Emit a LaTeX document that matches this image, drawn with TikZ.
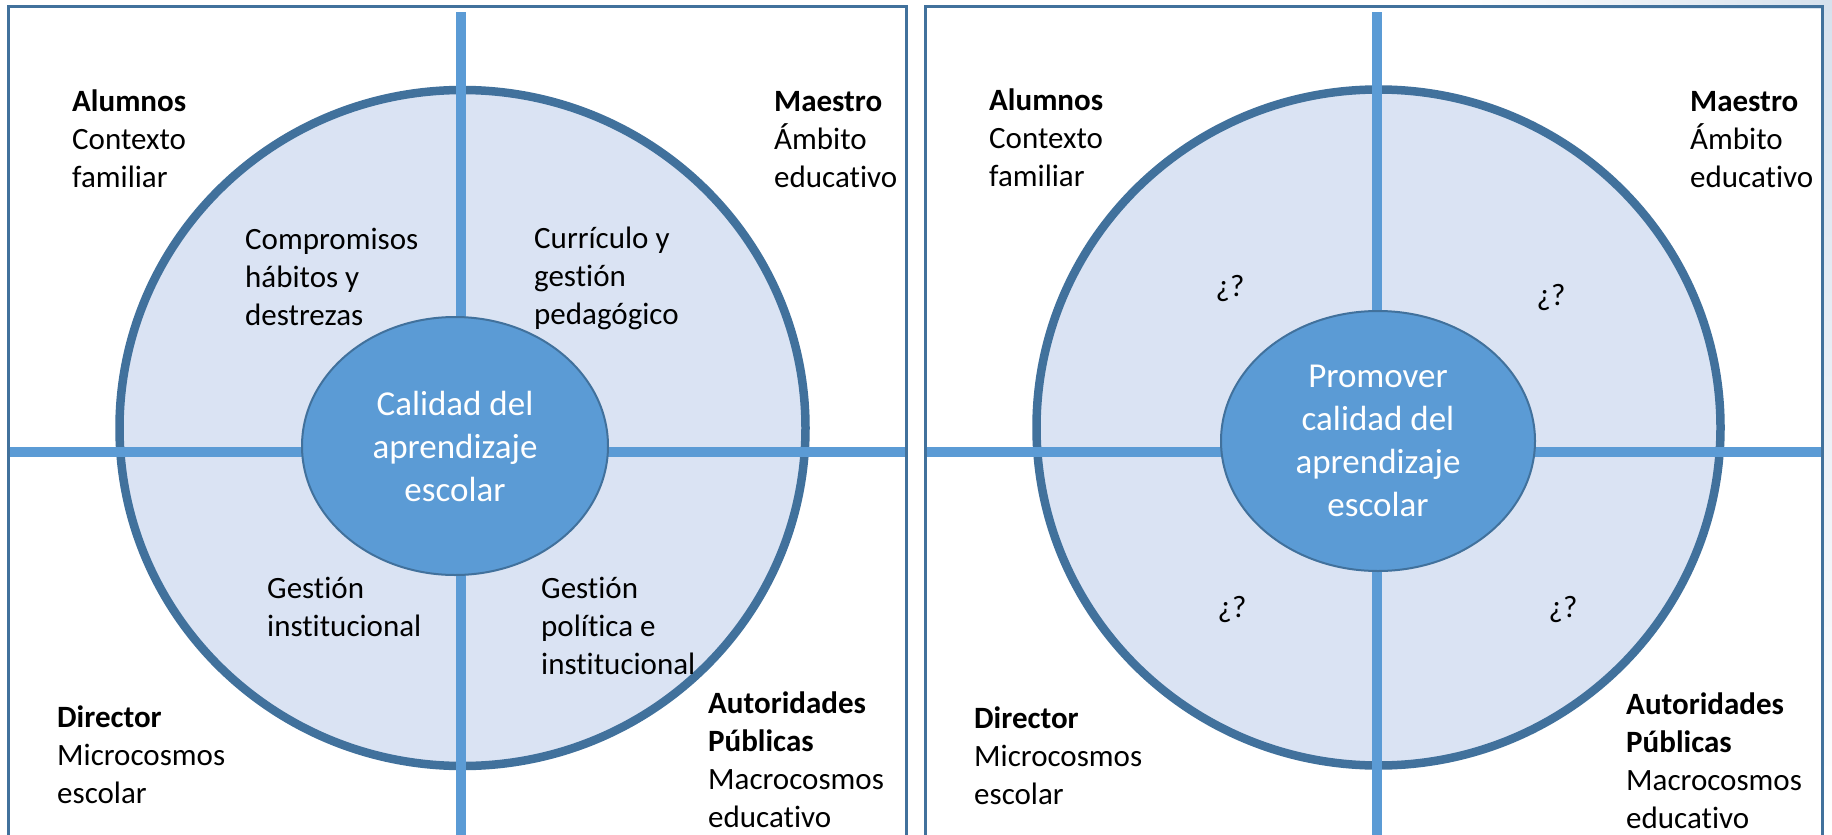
\documentclass[tikz,border=0pt]{standalone}
\usepackage{fontspec}
\setmainfont{Carlito}[Ligatures=NoCommon]
\usetikzlibrary{shapes.geometric}
\definecolor{barblue}{HTML}{5B9BD5}
\definecolor{edgeblue}{HTML}{41719C}
\definecolor{ringfill}{HTML}{DAE3F3}
\definecolor{bgblue}{HTML}{D6E1ED}

\begin{document}
\begin{tikzpicture}[x=1pt,y=-1pt,
		panel/.style={edgeblue, line width=3pt},
		ring/.style={draw=edgeblue, fill=ringfill, line width=8.5pt},
		bar/.style={barblue, line width=10pt},
		core/.style={ellipse, draw=edgeblue, fill=barblue, line width=2pt, text=white,
			align=center, inner sep=0pt, font=\fontsize{35}{43}\selectfont},
		txt/.style={anchor=base west, align=left, inner sep=0pt, font=\fontsize{31}{38}\selectfont},
		ask/.style={anchor=base, inner sep=0pt, font=\fontsize{31}{38}\selectfont}]
		%% Page, with the faint shade at the top right
		\useasboundingbox (0,0) rectangle (1832,835);
		\clip (0,0) rectangle (1832,835);
		\fill[white] (0,0) rectangle (1832,835);
		\fill[left color=white, right color=bgblue] (1450,0) rectangle (1832,8);
		\fill[top color=bgblue, bottom color=white] (1823,0) rectangle (1832,835);

		%% Two panels, open at the bottom
		\draw[panel] (8,845) -- (8,6.5) -- (906,6.5) -- (906,845);
		\draw[panel] (925,845) -- (925,6.5) -- (1822,6.5) -- (1822,845);

		%% Outer rings
		\draw[ring] (462.5,428) ellipse [x radius=343pt, y radius=338pt];
		\draw[ring] (1378.5,427.5) ellipse [x radius=342pt, y radius=338pt];

		%% Cross bars
		\draw[bar] (461,12) -- (461,845);
		\draw[bar] (9.5,452) -- (904.5,452);
		\draw[bar] (1377,12) -- (1377,845);
		\draw[bar] (926.5,452) -- (1820.5,452);

		%% Centres
		\node[core, minimum width=306pt, minimum height=258pt] (calidad) at (455,446)
		{Calidad del\\aprendizaje\\escolar};
		\node[core, minimum width=314pt, minimum height=260pt] (promover) at (1378,441)
		{Promover\\calidad del\\aprendizaje\\escolar};

		%% Left panel, corners
		\node[txt] (alumnosL) at (72,187) {\textbf{Alumnos}\\Contexto\\familiar};
		\node[txt] (maestroL) at (774,187) {\textbf{Maestro}\\Ámbito\\educativo};
		\node[txt] (directorL) at (57,803) {\textbf{Director}\\Microcosmos\\escolar};
		\node[txt] (autoridadesL) at (708,827)
		{\textbf{Autoridades}\\\textbf{Públicas}\\Macrocosmos\\educativo};

		% Left panel, quarters of the ring
		\node[txt] (compromisos) at (245,325) {Compromisos\\hábitos y\\destrezas};
		\node[txt] (curriculo) at (534,324) {Currículo y\\gestión\\pedagógico};
		\node[txt] (gestionI) at (267,636) {Gestión\\institucional};
		\node[txt] (gestionP) at (541,674) {Gestión\\política e\\institucional};

		%% Right panel, corners
		\node[txt] (alumnosR) at (989,186) {\textbf{Alumnos}\\Contexto\\familiar};
		\node[txt] (maestroR) at (1690,187) {\textbf{Maestro}\\Ámbito\\educativo};
		\node[txt] (directorR) at (974,804) {\textbf{Director}\\Microcosmos\\escolar};
		\node[txt] (autoridadesR) at (1626,828)
		{\textbf{Autoridades}\\\textbf{Públicas}\\Macrocosmos\\educativo};

		% Right panel, open questions
		\node[ask] (askNW) at (1230,296) {¿?};
		\node[ask] (askNE) at (1551,305) {¿?};
		\node[ask] (askSW) at (1232,617) {¿?};
		\node[ask] (askSE) at (1563,617) {¿?};
	\end{tikzpicture}
\end{document}
